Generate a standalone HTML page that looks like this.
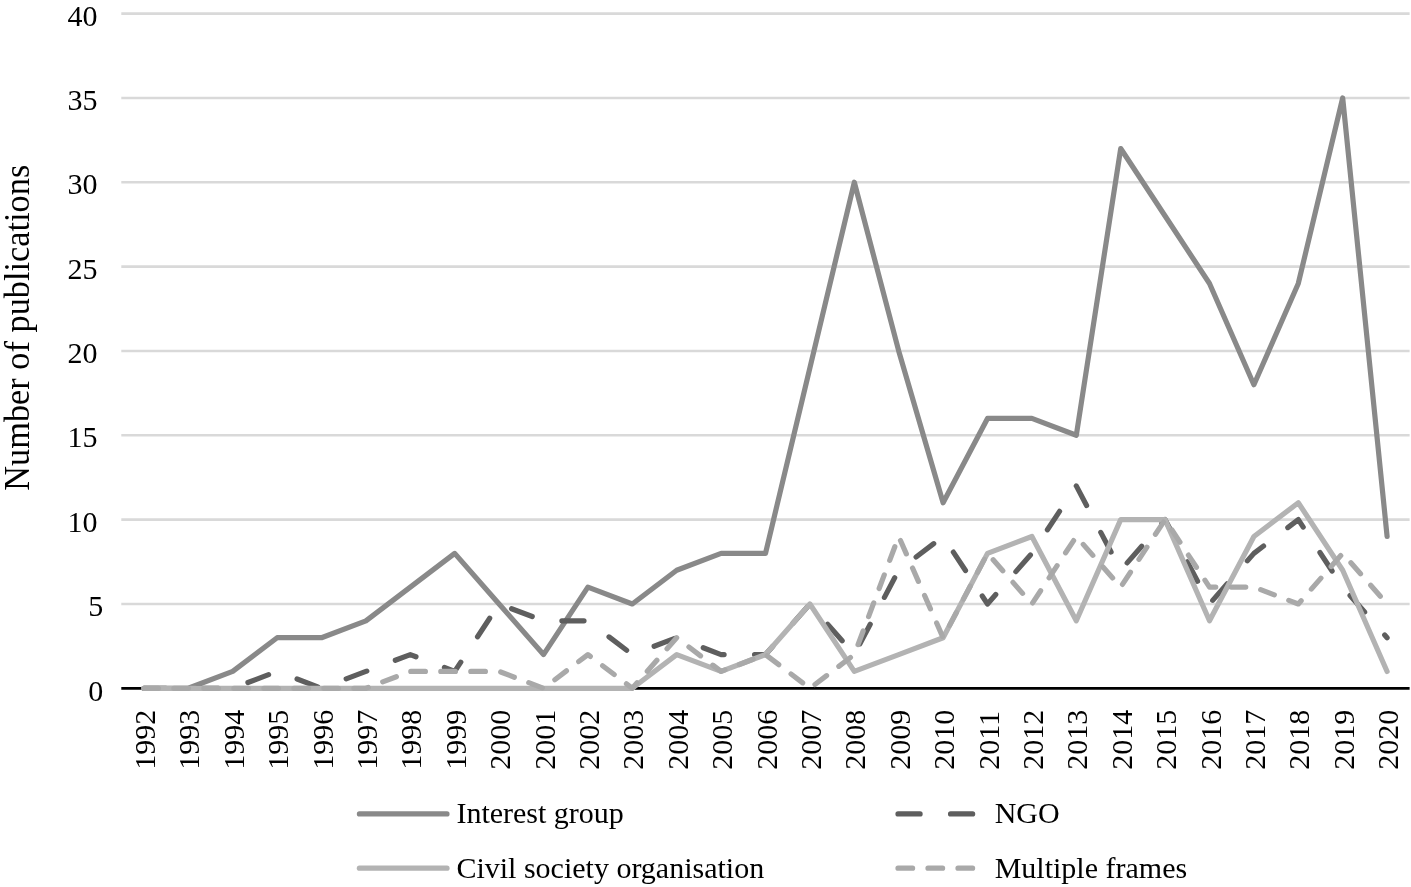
<!DOCTYPE html>
<html><head><meta charset="utf-8"><style>
html,body{margin:0;padding:0;background:#fff;}
svg{display:block;will-change:transform}
.t{font-family:"Liberation Serif",serif;font-size:30px;fill:#000}
.title{font-family:"Liberation Serif",serif;font-size:36px;fill:#000}
</style></head><body>
<svg width="1411" height="887" viewBox="0 0 1411 887">
<line x1="121.3" y1="603.96" x2="1409.6" y2="603.96" stroke="#d9d9d9" stroke-width="2.6"/>
<line x1="121.3" y1="519.62" x2="1409.6" y2="519.62" stroke="#d9d9d9" stroke-width="2.6"/>
<line x1="121.3" y1="435.29" x2="1409.6" y2="435.29" stroke="#d9d9d9" stroke-width="2.6"/>
<line x1="121.3" y1="350.95" x2="1409.6" y2="350.95" stroke="#d9d9d9" stroke-width="2.6"/>
<line x1="121.3" y1="266.61" x2="1409.6" y2="266.61" stroke="#d9d9d9" stroke-width="2.6"/>
<line x1="121.3" y1="182.27" x2="1409.6" y2="182.27" stroke="#d9d9d9" stroke-width="2.6"/>
<line x1="121.3" y1="97.94" x2="1409.6" y2="97.94" stroke="#d9d9d9" stroke-width="2.6"/>
<line x1="121.3" y1="13.60" x2="1409.6" y2="13.60" stroke="#d9d9d9" stroke-width="2.6"/>
<text x="88.3" y="700.50" class="t">0</text>
<text x="88.3" y="616.16" class="t">5</text>
<text x="67.5" y="531.83" class="t">10</text>
<text x="67.5" y="447.49" class="t">15</text>
<text x="67.5" y="363.15" class="t">20</text>
<text x="67.5" y="278.81" class="t">25</text>
<text x="67.5" y="194.47" class="t">30</text>
<text x="67.5" y="110.14" class="t">35</text>
<text x="67.5" y="25.80" class="t">40</text>
<text transform="translate(154.90,769.8) rotate(-90)" class="t">1992</text>
<text transform="translate(199.30,769.8) rotate(-90)" class="t">1993</text>
<text transform="translate(243.70,769.8) rotate(-90)" class="t">1994</text>
<text transform="translate(288.10,769.8) rotate(-90)" class="t">1995</text>
<text transform="translate(332.50,769.8) rotate(-90)" class="t">1996</text>
<text transform="translate(376.90,769.8) rotate(-90)" class="t">1997</text>
<text transform="translate(421.30,769.8) rotate(-90)" class="t">1998</text>
<text transform="translate(465.70,769.8) rotate(-90)" class="t">1999</text>
<text transform="translate(510.10,769.8) rotate(-90)" class="t">2000</text>
<text transform="translate(554.50,769.8) rotate(-90)" class="t">2001</text>
<text transform="translate(598.90,769.8) rotate(-90)" class="t">2002</text>
<text transform="translate(643.30,769.8) rotate(-90)" class="t">2003</text>
<text transform="translate(687.70,769.8) rotate(-90)" class="t">2004</text>
<text transform="translate(732.10,769.8) rotate(-90)" class="t">2005</text>
<text transform="translate(776.50,769.8) rotate(-90)" class="t">2006</text>
<text transform="translate(820.90,769.8) rotate(-90)" class="t">2007</text>
<text transform="translate(865.30,769.8) rotate(-90)" class="t">2008</text>
<text transform="translate(909.70,769.8) rotate(-90)" class="t">2009</text>
<text transform="translate(954.10,769.8) rotate(-90)" class="t">2010</text>
<text transform="translate(998.50,769.8) rotate(-90)" class="t">2011</text>
<text transform="translate(1042.90,769.8) rotate(-90)" class="t">2012</text>
<text transform="translate(1087.30,769.8) rotate(-90)" class="t">2013</text>
<text transform="translate(1131.70,769.8) rotate(-90)" class="t">2014</text>
<text transform="translate(1176.10,769.8) rotate(-90)" class="t">2015</text>
<text transform="translate(1220.50,769.8) rotate(-90)" class="t">2016</text>
<text transform="translate(1264.90,769.8) rotate(-90)" class="t">2017</text>
<text transform="translate(1309.30,769.8) rotate(-90)" class="t">2018</text>
<text transform="translate(1353.70,769.8) rotate(-90)" class="t">2019</text>
<text transform="translate(1398.10,769.8) rotate(-90)" class="t">2020</text>
<line x1="121.3" y1="688.3" x2="1409.6" y2="688.3" stroke="#000" stroke-width="2.8"/>
<polyline points="143.90,688.30 188.30,688.30 232.70,671.43 277.10,637.70 321.50,637.70 365.90,620.83 410.30,587.09 454.70,553.36 499.10,603.96 543.50,654.56 587.90,587.09 632.30,603.96 676.70,570.23 721.10,553.36 765.50,553.36 809.90,367.82 854.30,182.27 898.70,350.95 943.10,502.76 987.50,418.42 1031.90,418.42 1076.30,435.29 1120.70,148.54 1165.10,216.01 1209.50,283.48 1253.90,384.68 1298.30,283.48 1342.70,97.94 1387.10,536.49" fill="none" stroke="#898989" stroke-width="5.2" stroke-linejoin="round" stroke-linecap="round"/>
<polyline points="143.90,688.30 188.30,688.30 232.70,688.30 277.10,671.43 321.50,688.30 365.90,671.43 410.30,654.56 454.70,671.43 499.10,603.96 543.50,620.83 587.90,620.83 632.30,654.56 676.70,637.70 721.10,654.56 765.50,654.56 809.90,603.96 854.30,654.56 898.70,570.23 943.10,536.49 987.50,603.96 1031.90,553.36 1076.30,485.89 1120.70,570.23 1165.10,519.62 1209.50,603.96 1253.90,553.36 1298.30,519.62 1342.70,587.09 1387.10,637.70" fill="none" stroke="#5e5e5e" stroke-width="5.2" stroke-linejoin="round" stroke-linecap="round" stroke-dasharray="22.1 30.45"/>
<polyline points="143.90,688.30 188.30,688.30 232.70,688.30 277.10,688.30 321.50,688.30 365.90,688.30 410.30,688.30 454.70,688.30 499.10,688.30 543.50,688.30 587.90,688.30 632.30,688.30 676.70,654.56 721.10,671.43 765.50,654.56 809.90,603.96 854.30,671.43 898.70,654.56 943.10,637.70 987.50,553.36 1031.90,536.49 1076.30,620.83 1120.70,519.62 1165.10,519.62 1209.50,620.83 1253.90,536.49 1298.30,502.76 1342.70,570.23 1387.10,671.43" fill="none" stroke="#b3b3b3" stroke-width="5.2" stroke-linejoin="round" stroke-linecap="round"/>
<polyline points="143.90,688.30 188.30,688.30 232.70,688.30 277.10,688.30 321.50,688.30 365.90,688.30 410.30,671.43 454.70,671.43 499.10,671.43 543.50,688.30 587.90,654.56 632.30,688.30 676.70,637.70 721.10,671.43 765.50,654.56 809.90,688.30 854.30,654.56 898.70,536.49 943.10,637.70 987.50,553.36 1031.90,603.96 1076.30,536.49 1120.70,587.09 1165.10,519.62 1209.50,587.09 1253.90,587.09 1298.30,603.96 1342.70,553.36 1387.10,603.96" fill="none" stroke="#a9a9a9" stroke-width="5.2" stroke-linejoin="round" stroke-linecap="round" stroke-dasharray="14.6 15.4"/>
<text transform="translate(29.1,490.7) rotate(-90)" class="title" textLength="326" lengthAdjust="spacingAndGlyphs">Number of publications</text>
<line x1="359.4" y1="813.9" x2="447.0" y2="813.9" stroke="#898989" stroke-width="5.2" stroke-linecap="round"/>
<text x="456.4" y="823.0" class="t">Interest group</text>
<line x1="359.4" y1="868.2" x2="447.0" y2="868.2" stroke="#b3b3b3" stroke-width="5.2" stroke-linecap="round"/>
<text x="456.4" y="877.9" class="t">Civil society organisation</text>
<line x1="898.0" y1="813.9" x2="985.6" y2="813.9" stroke="#5e5e5e" stroke-width="5.2" stroke-linecap="round" stroke-dasharray="22.1 30.45"/>
<text x="994.7" y="823.0" class="t">NGO</text>
<line x1="898.0" y1="868.2" x2="985.6" y2="868.2" stroke="#a9a9a9" stroke-width="5.2" stroke-linecap="round" stroke-dasharray="14.6 15.4"/>
<text x="994.7" y="877.9" class="t">Multiple frames</text>
</svg>
</body></html>
